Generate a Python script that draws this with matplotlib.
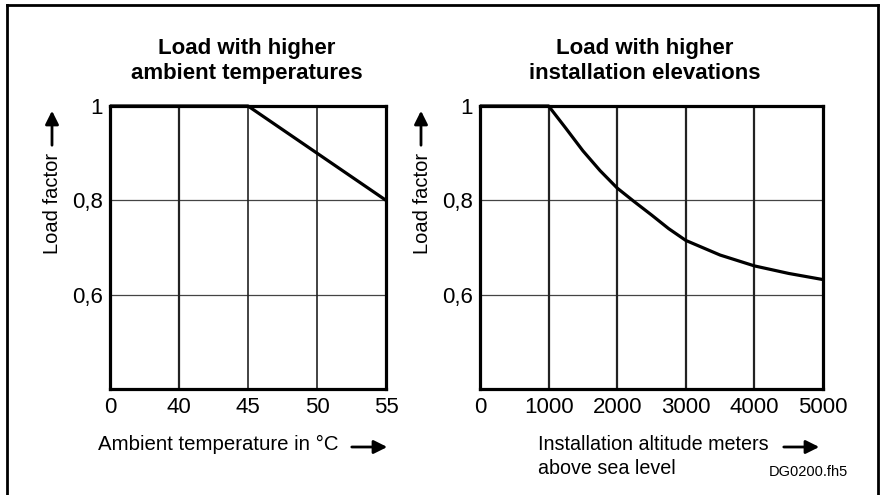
import matplotlib
matplotlib.use("Agg")
import matplotlib.pyplot as plt
from matplotlib.patches import FancyArrowPatch
from matplotlib.lines import Line2D

plt.rcParams['font.family'] = ['Liberation Sans', 'DejaVu Sans']

# --------------------------------------------------------------
# DATA
# --------------------------------------------------------------
temp_labels = ["0", "40", "45", "50", "55"]
temp_load = [1.0, 1.0, 1.0, 0.9, 0.8]

alt_values = [0, 1000, 1250, 1500, 1750, 2000, 2250, 2500, 2750, 3000, 3500, 4000, 4500, 5000]
alt_load = [1.0, 1.0, 0.953, 0.905, 0.863, 0.826, 0.797, 0.769, 0.740, 0.715, 0.684, 0.661, 0.645, 0.632]
alt_ticks = [0, 1000, 2000, 3000, 4000, 5000]

y_ticks = [0.6, 0.8, 1.0]
y_labels = ["0,6", "0,8", "1"]

W, H = 882, 495


def fx(px):
    return px / W


def fy(py):
    return 1 - py / H


fig = plt.figure(figsize=(W / 100, H / 100), dpi=100)

# outer frame (top, left, right)
for xs, ys in [([7, 878], [5, 5]), ([7, 7], [5, 495]), ([878, 878], [5, 495])]:
    fig.add_artist(Line2D([fx(x) for x in xs], [fy(y) for y in ys],
                          color="black", lw=2.0))

ax1 = fig.add_axes([fx(110), fy(389), fx(386) - fx(110), fy(106) - fy(389)])
ax2 = fig.add_axes([fx(480), fy(389), fx(823) - fx(480), fy(106) - fy(389)])


def style_axes(ax):
    ax.set_ylim(0.4, 1.0)
    ax.set_yticks(y_ticks)
    ax.set_yticklabels(y_labels)
    ax.tick_params(length=0, labelsize=16, pad=5)
    ax.tick_params(axis="x", pad=6)
    for s in ax.spines.values():
        s.set_linewidth(2.3)
        s.set_color("black")
    for yv in y_ticks[:-1]:
        ax.axhline(yv, color="#444444", lw=0.9, zorder=1)


# left panel
style_axes(ax1)
pos = list(range(len(temp_labels)))
ax1.set_xlim(0, len(temp_labels) - 1)
ax1.set_xticks(pos)
ax1.set_xticklabels(temp_labels)
for p in pos[1:-1]:
    ax1.axvline(p, color="#222222", lw=1.2 if p > 1 else 1.6, zorder=1)
ax1.plot(pos, temp_load, color="black", lw=2.3, clip_on=False, zorder=3,
         solid_capstyle="butt")

# right panel
style_axes(ax2)
ax2.set_xlim(0, 5000)
ax2.set_xticks(alt_ticks)
ax2.set_xticklabels([str(t) for t in alt_ticks])
for t in alt_ticks[1:-1]:
    ax2.axvline(t, color="#222222", lw=1.6, zorder=1)
ax2.plot(alt_values, alt_load, color="black", lw=2.3, clip_on=False, zorder=3,
         solid_capstyle="butt", solid_joinstyle="round")

# titles
fig.text(fx(247), fy(61), "Load with higher\nambient temperatures", ha="center",
         va="center", fontsize=16, fontweight="bold", linespacing=1.2)
fig.text(fx(645), fy(61), "Load with higher\ninstallation elevations", ha="center",
         va="center", fontsize=16, fontweight="bold", linespacing=1.2)

# y labels with arrows
for xl in [53, 422]:
    fig.text(fx(xl), fy(203), "Load factor", rotation=90, ha="center", va="center",
             fontsize=14.5)
    fig.add_artist(FancyArrowPatch((fx(xl - 1), fy(148)), (fx(xl - 1), fy(108)),
                                   transform=fig.transFigure, arrowstyle="-|>",
                                   mutation_scale=20, color="black", lw=2))

# x labels with arrows
fig.text(fx(98), fy(444), "Ambient temperature in °C", ha="left", va="center",
         fontsize=14.7)
fig.add_artist(FancyArrowPatch((fx(349), fy(447)), (fx(390), fy(447)),
                               transform=fig.transFigure, arrowstyle="-|>",
                               mutation_scale=20, color="black", lw=2))
fig.text(fx(538), fy(444), "Installation altitude meters", ha="left",
         va="center", fontsize=14.2)
fig.text(fx(538), fy(469), "above sea level", ha="left",
         va="center", fontsize=14.2)
fig.add_artist(FancyArrowPatch((fx(781), fy(447)), (fx(822), fy(447)),
                               transform=fig.transFigure, arrowstyle="-|>",
                               mutation_scale=20, color="black", lw=2))
fig.text(fx(769), fy(472), "DG0200.fh5", ha="left", va="center", fontsize=10.5)

fig.savefig("out.png", dpi=100)
